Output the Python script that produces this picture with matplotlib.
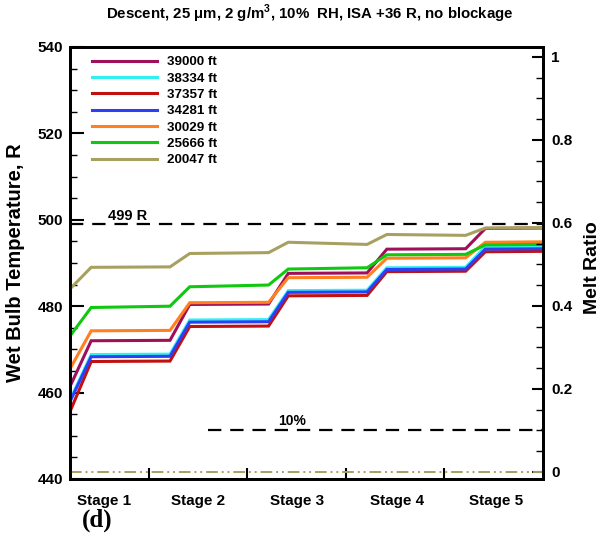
import matplotlib
matplotlib.use("Agg")
import matplotlib.pyplot as plt
from matplotlib.ticker import MultipleLocator, FixedLocator, FixedFormatter

plt.rcParams['font.family'] = ['Liberation Sans', 'DejaVu Sans']
plt.rcParams['font.weight'] = 'bold'

# ---- data ----
# x positions along the stages: start, then (stage entry, stage exit) ... per stage
stage_pos = [0.2, 0.415, 1.215, 1.415, 2.215, 2.415, 3.215, 3.415, 4.215, 4.415, 5.0]
stage_labels = ['Stage 1', 'Stage 2', 'Stage 3', 'Stage 4', 'Stage 5']
stage_label_pos = [0.55, 1.5, 2.5, 3.52, 4.52]
stage_boundaries = [1, 2, 3, 4]

labels = ['39000 ft', '38334 ft', '37357 ft', '34281 ft', '30029 ft', '25666 ft', '20047 ft']
colors = ['#A0105A', '#30F0F0', '#C01010', '#2E3EF5', '#FF8020', '#10C810', '#A8A060']

t_39000 = [461.4, 472.0, 472.1, 480.4, 480.5, 487.6, 487.7, 493.2, 493.3, 498.0, 498.1]
t_38334 = [458.3, 468.8, 468.9, 476.8, 476.9, 483.6, 483.7, 488.9, 489.0, 493.8, 493.9]
t_37357 = [455.6, 467.2, 467.3, 475.3, 475.4, 482.4, 482.5, 488.0, 488.1, 492.6, 492.7]
t_34281 = [457.9, 468.3, 468.4, 476.3, 476.4, 483.2, 483.3, 488.5, 488.6, 493.2, 493.3]
t_30029 = [465.5, 474.3, 474.4, 480.8, 480.9, 486.6, 486.7, 491.1, 491.2, 494.8, 494.9]
t_25666 = [473.1, 479.7, 480.0, 484.5, 484.9, 488.6, 488.9, 491.9, 492.0, 494.2, 494.3]
t_20047 = [484.0, 489.0, 489.1, 492.2, 492.4, 494.8, 494.3, 496.6, 496.4, 498.1, 498.2]
series = [t_39000, t_38334, t_37357, t_34281, t_30029, t_25666, t_20047]

melt_ratio_20047 = [0.0, 0.0]      # melt ratio stays zero
ref_temp = 499                      # R
ref_melt = 0.10                     # 10%

# ---- figure ----
fig = plt.figure(figsize=(6.03, 5.39), dpi=100)
ax = fig.add_axes([70/603, 1-479/539, 473/603, 432/539])
ax2 = ax.twinx()

for y, c, lab in zip(series, colors, labels):
    ax.plot(stage_pos, y, color=c, lw=2.2, label=lab, solid_joinstyle='miter', zorder=3)

ax.axhline(ref_temp, color='black', lw=1.6, dashes=(6, 4), zorder=2)
ax.text(0.59, ref_temp + 1.0, '499 R', fontsize=10.5, fontweight='bold', va='baseline', ha='left')

ax2.plot([1.6, 5.0], [ref_melt, ref_melt], color='black', lw=1.6, dashes=(6, 4))
ax2.text(2.31, ref_melt + 0.013, '10%', fontsize=10, fontweight='bold', va='baseline', ha='left')
ax2.plot([0.2, 5.0], melt_ratio_20047, color='#A8A060', lw=1.4, dashes=(6, 2, 1, 2, 1, 2))

ax.set_xlim(0.2, 5.0)
ax.set_ylim(440, 540)
ax2.set_ylim(-0.017, 1.024)

# x ticks
ax.xaxis.set_major_locator(FixedLocator(stage_boundaries))
ax.xaxis.set_major_formatter(FixedFormatter(['', '', '', '']))
ax.xaxis.set_minor_locator(FixedLocator(stage_label_pos))
ax.xaxis.set_minor_formatter(FixedFormatter(stage_labels))
ax.tick_params(axis='x', which='major', direction='in', length=8, width=1.5, top=False)
ax.tick_params(axis='x', which='minor', length=0, pad=11, labelsize=11)

# left y ticks
ax.yaxis.set_major_locator(MultipleLocator(20))
ax.yaxis.set_minor_locator(MultipleLocator(5))
ax.tick_params(axis='y', which='major', direction='in', length=10, width=1.5, labelsize=11, pad=5)
ax.tick_params(axis='y', which='minor', direction='in', length=5, width=1.0)

# right y ticks
ax2.yaxis.set_major_locator(FixedLocator([0, 0.2, 0.4, 0.6, 0.8, 1.0]))
ax2.yaxis.set_major_formatter(FixedFormatter(['0', '0.2', '0.4', '0.6', '0.8', '1']))
ax2.yaxis.set_minor_locator(MultipleLocator(0.05))
ax2.tick_params(axis='y', which='major', direction='in', length=8, width=1.5, labelsize=11, pad=6)
ax2.tick_params(axis='y', which='minor', direction='in', length=5, width=1.0)

for a in (ax, ax2):
    for s in a.spines.values():
        s.set_linewidth(2.0)

for t in ax.get_yticklabels() + ax2.get_yticklabels() + ax.get_xticklabels(minor=True):
    t.set_fontweight('bold')

ax.set_ylabel('Wet Bulb Temperature, R', fontsize=14.5, fontweight='bold', va='center')
ax.yaxis.set_label_coords(-0.115, 0.5)
ax2.set_ylabel('Melt Ratio', fontsize=14, fontweight='bold', rotation=90, va='center')
ax2.yaxis.set_label_coords(1.104, 0.49)

fig.text(310/603, 1-14/539, 'Descent, 25 $\\mathregular{\\mu}$m, 2 g/m$^{\\mathregular{3}}$, 10%  RH, ISA +36 R, no blockage',
         ha='center', va='center', fontsize=10.8, fontweight='bold')

fig.text(82/603, 1-520/539, '(d)', fontsize=18, fontweight='bold', family='Liberation Serif',
         ha='left', va='center')

leg = ax.legend(loc='upper left', bbox_to_anchor=(92/603, 1-56/539), bbox_transform=fig.transFigure,
                frameon=False, fontsize=9.6, handlelength=4.9, handletextpad=0.7,
                labelspacing=0.3, borderpad=0, borderaxespad=0)
for t in leg.get_texts():
    t.set_fontweight('bold')
for l in leg.get_lines():
    l.set_linewidth(2.2)

fig.savefig('out.png', dpi=100)
